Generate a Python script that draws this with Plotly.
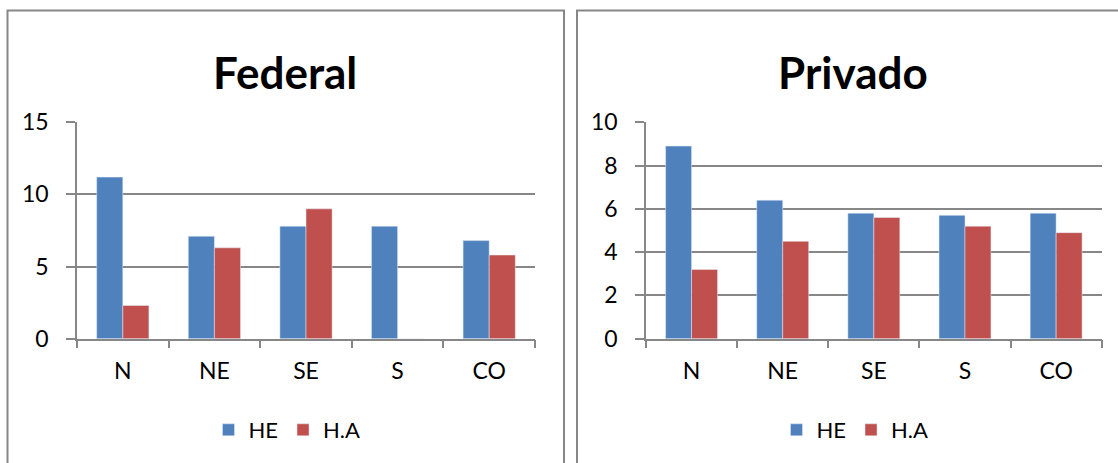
import plotly.graph_objects as go

# Data: average hours by region, two institution types
regions = ["N", "NE", "SE", "S", "CO"]
federal_he = [11.2, 7.1, 7.8, 7.8, 6.8]
federal_ha = [2.3, 6.3, 9.0, 0, 5.8]
privado_he = [8.9, 6.4, 5.8, 5.7, 5.8]
privado_ha = [3.2, 4.5, 5.6, 5.2, 4.9]

W, H = 1118, 463
BLUE = "#4F81BD"
RED = "#C0504D"
GRID = "#878787"
FONT = "Lato"


def px_x(v):
    return v / W


def px_y(v):
    return (H - v) / H


fig = go.Figure()

fig.add_trace(go.Bar(x=regions, y=federal_he, name="HE", marker_color=BLUE,
                     xaxis="x", yaxis="y", legend="legend"))
fig.add_trace(go.Bar(x=regions, y=federal_ha, name="H.A", marker_color=RED,
                     xaxis="x", yaxis="y", legend="legend"))
fig.add_trace(go.Bar(x=regions, y=privado_he, name="HE", marker_color=BLUE,
                     xaxis="x2", yaxis="y2", legend="legend2"))
fig.add_trace(go.Bar(x=regions, y=privado_ha, name="H.A", marker_color=RED,
                     xaxis="x2", yaxis="y2", legend="legend2"))

ydom = [px_y(338.7), px_y(122.3)]

xaxis_common = dict(
    type="category", showline=True, linecolor=GRID, linewidth=1.5,
    ticks="outside", tickson="boundaries", ticklen=8, tickcolor=GRID, tickwidth=1.5,
    showgrid=False, zeroline=False, ticklabelstandoff=11, automargin=False,
    tickfont=dict(family=FONT, size=23, color="black"), fixedrange=True,
)
yaxis_common = dict(
    showline=True, linecolor=GRID, linewidth=1.5,
    ticks="outside", ticklen=9, tickcolor=GRID, tickwidth=1.5,
    showgrid=True, gridcolor=GRID, gridwidth=1.5, zeroline=False,
    ticklabelstandoff=13, automargin=False,
    tickfont=dict(family=FONT, size=23, color="black"), fixedrange=True,
)

legend_common = dict(
    orientation="h", xanchor="center", yanchor="middle",
    font=dict(family=FONT, size=22, color="black"),
    bgcolor="rgba(0,0,0,0)", itemclick=False, itemdoubleclick=False,
    traceorder="normal",
)

fig.update_layout(
    width=W, height=H,
    margin=dict(l=0, r=0, t=0, b=0),
    paper_bgcolor="white", plot_bgcolor="white",
    barmode="group", bargap=0.43, bargroupgap=0,
    xaxis=dict(domain=[px_x(77), px_x(535)], anchor="y", **xaxis_common),
    yaxis=dict(domain=ydom, anchor="x", range=[0, 15], dtick=5, **yaxis_common),
    xaxis2=dict(domain=[px_x(646), px_x(1101.7)], anchor="y2", **xaxis_common),
    yaxis2=dict(domain=ydom, anchor="x2", range=[0, 10], dtick=2, **yaxis_common),
    legend=dict(x=px_x(287), y=px_y(430), **legend_common),
    legend2=dict(x=px_x(855), y=px_y(430), **legend_common),
    annotations=[
        dict(text="<b>Federal</b>", x=px_x(285), y=px_y(72), xref="paper", yref="paper",
             showarrow=False, xanchor="center", yanchor="middle",
             font=dict(family=FONT, size=44, color="black")),
        dict(text="<b>Privado</b>", x=px_x(853), y=px_y(72), xref="paper", yref="paper",
             showarrow=False, xanchor="center", yanchor="middle",
             font=dict(family=FONT, size=44, color="black")),
    ],
    shapes=[
        # left panel frame (runs off the bottom edge)
        dict(type="path", xref="paper", yref="paper",
             path=f"M {px_x(7.5)},{px_y(480)} L {px_x(7.5)},{px_y(10.5)} "
                  f"L {px_x(564)},{px_y(10.5)} L {px_x(564)},{px_y(480)}",
             line=dict(color=GRID, width=2)),
        # right panel frame (runs off the right and bottom edges)
        dict(type="path", xref="paper", yref="paper",
             path=f"M {px_x(577)},{px_y(480)} L {px_x(577)},{px_y(10.5)} "
                  f"L {px_x(1125)},{px_y(10.5)}",
             line=dict(color=GRID, width=2)),
    ],
)

fig.write_html("out.html")
